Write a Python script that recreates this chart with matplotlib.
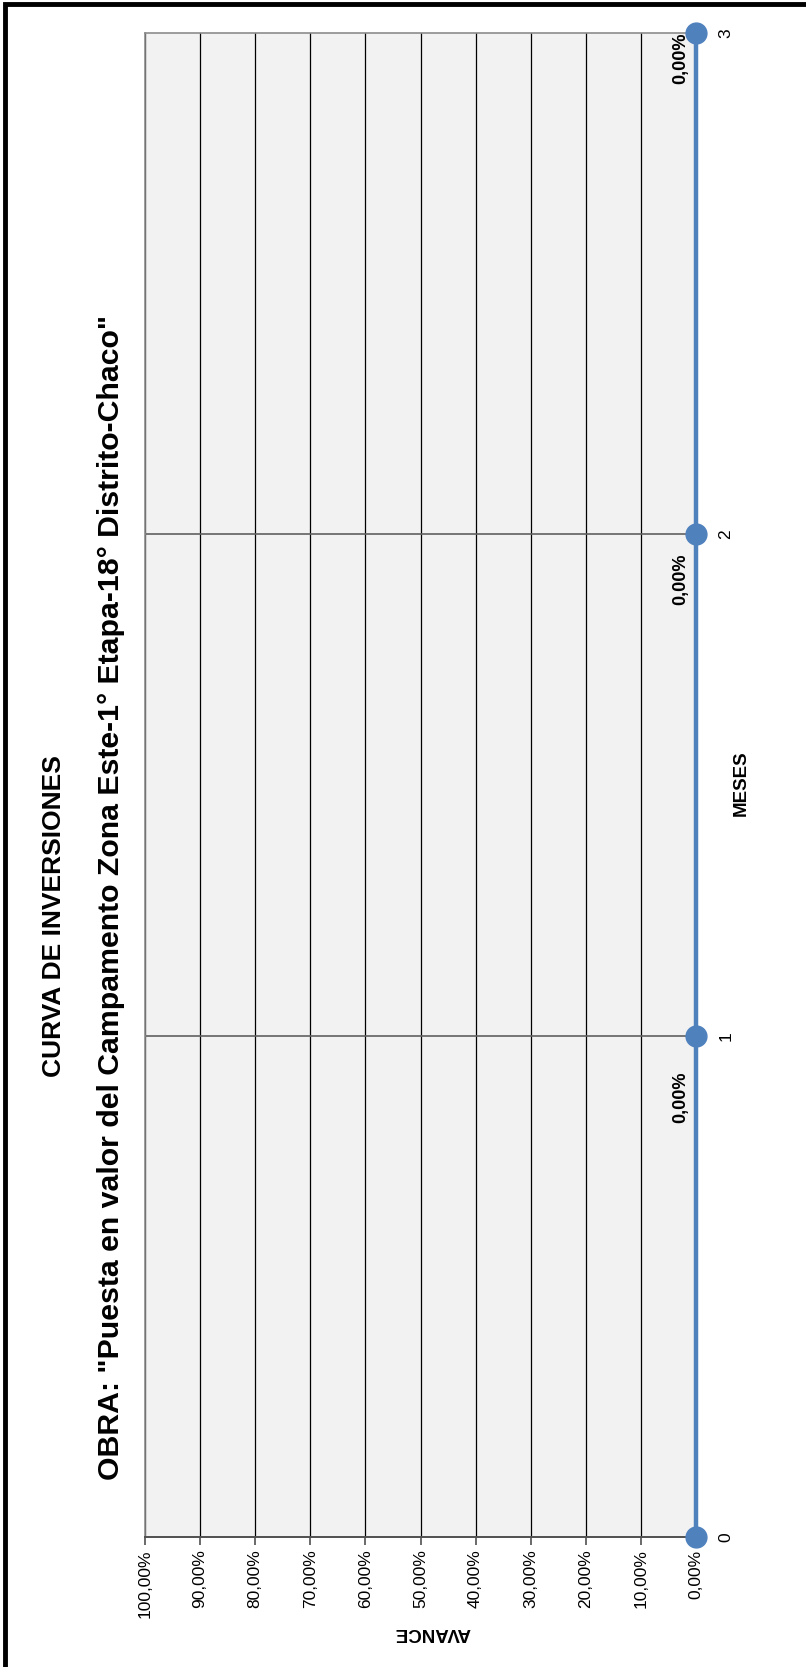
import matplotlib.pyplot as plt
from matplotlib.patches import Rectangle

# data
meses = [0, 1, 2, 3]
avance = [0.0, 0.0, 0.0, 0.0]
etiquetas_mes = ["0", "1", "2", "3"]
pct_ticks = [0, 10, 20, 30, 40, 50, 60, 70, 80, 90, 100]

titulo = "CURVA DE INVERSIONES"
subtitulo = 'OBRA: "Puesta en valor del Campamento Zona Este-1° Etapa-18° Distrito-Chaco"'

plt.rcParams['font.family'] = ['Liberation Sans', 'DejaVu Sans']

W, H = 806, 1667
fig = plt.figure(figsize=(W / 100, H / 100), dpi=100)

# plot area (chart is drawn rotated 90 deg: months run bottom->top, % runs right->left)
left, right, top, bottom = 145, 696, 33, 1537
ax = fig.add_axes([left / W, 1 - bottom / H, (right - left) / W, (bottom - top) / H])
ax.set_facecolor('#F2F2F2')
ax.set_xlim(100, 0)
ax.set_ylim(0, 3)

for p in pct_ticks[1:]:
    ax.axvline(p, color='black', lw=0.9, zorder=1)
for m in meses[1:-1]:
    ax.axhline(m, color='#606060', lw=1.2, zorder=1)

ax.plot(avance, meses, color='#4F81BD', lw=3.2, marker='o', ms=15,
        zorder=5, clip_on=False)

# data labels (skip the first point, as in the source)
label_drop = [0, 62, 45, 25]
for i in range(1, len(meses)):
    txt = f"{avance[i]:.2f}%".replace('.', ',')
    ax.annotate(txt, (avance[i], meses[i]), xytext=(-15, -label_drop[i]),
                textcoords='offset pixels', rotation=90, ha='center', va='center',
                fontsize=13, fontweight='bold', zorder=6)

for s in ['left', 'top']:
    ax.spines[s].set_color('#8C8C8C')
    ax.spines[s].set_linewidth(1.2)
ax.spines['right'].set_visible(False)
ax.spines['bottom'].set_color('#505050')
ax.spines['bottom'].set_linewidth(1.4)

ax.set_xticks(pct_ticks)
ax.set_xticklabels([f"{p:.2f}%".replace('.', ',') for p in pct_ticks],
                   rotation=90, fontsize=12.5)
ax.tick_params(axis='x', direction='out', length=6, width=1.2, color='#505050', pad=3)

ax.set_yticks(meses)
ax.set_yticklabels(etiquetas_mes, rotation=90, fontsize=12.5, va='center')
ax.yaxis.tick_right()
ax.tick_params(axis='y', length=0, pad=16)

# axis titles
fig.text(741 / W, 1 - 783 / H, "MESES", rotation=90, ha='center', va='center',
         fontsize=13.5, fontweight='bold')
fig.text(432 / W, 1 - 1632 / H, "AVANCE", rotation=180, ha='center', va='center',
         fontsize=13.5, fontweight='bold')

# titles
fig.text(54 / W, 1 - 916 / H, titulo, rotation=90, ha='center', va='center',
         fontsize=19, fontweight='bold')
fig.text(111 / W, 1 - 897 / H, subtitulo, rotation=90, ha='center', va='center',
         fontsize=21.8, fontweight='bold')

# outer frame (cropped at right and bottom)
fig.add_artist(Rectangle((5 / W, -0.01), 1.2, 1 - 4 / H + 0.01, fill=False,
                         lw=3.5, edgecolor='black', transform=fig.transFigure))

fig.savefig('out.png', dpi=100)
